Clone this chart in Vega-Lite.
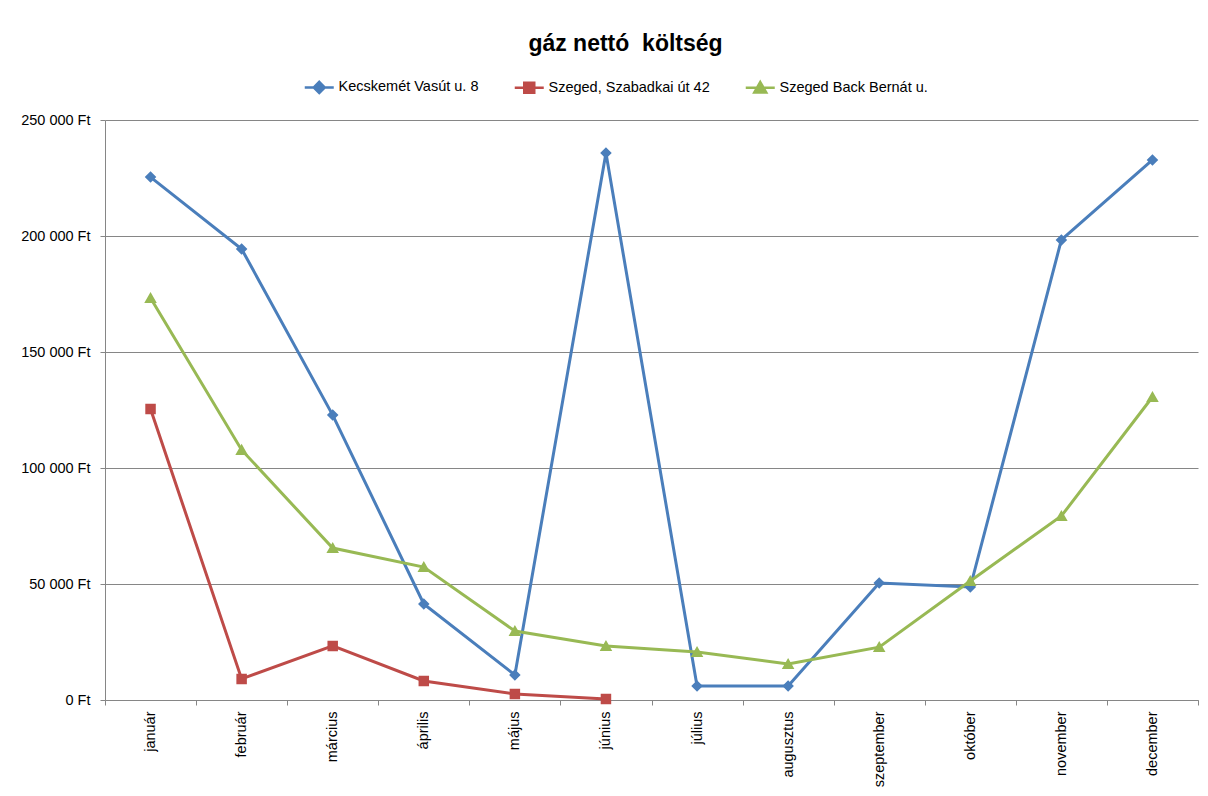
{
  "$schema": "https://vega.github.io/schema/vega-lite/v6.json",
  "width": 1093,
  "height": 580,
  "autosize": {"type": "none"},
  "padding": {"left": 105, "top": 120, "right": 10, "bottom": 96},
  "background": "white",
  "title": {"text": "gáz nettó \u00a0költség", "fontSize": 23, "font": "Liberation Sans", "fontWeight": "bold", "color": "#000000", "anchor": "middle", "dx": -26, "offset": 24},
  "config": {"view": {"stroke": null}, "font": "Liberation Sans"},
  "data": {"values": [
    {"month": "január", "series": "Kecskemét Vasút u. 8", "value": 225400},
    {"month": "február", "series": "Kecskemét Vasút u. 8", "value": 194400},
    {"month": "március", "series": "Kecskemét Vasút u. 8", "value": 122800},
    {"month": "április", "series": "Kecskemét Vasút u. 8", "value": 41400},
    {"month": "május", "series": "Kecskemét Vasút u. 8", "value": 10800},
    {"month": "június", "series": "Kecskemét Vasút u. 8", "value": 235800},
    {"month": "július", "series": "Kecskemét Vasút u. 8", "value": 6000},
    {"month": "augusztus", "series": "Kecskemét Vasút u. 8", "value": 6000},
    {"month": "szeptember", "series": "Kecskemét Vasút u. 8", "value": 50400},
    {"month": "október", "series": "Kecskemét Vasút u. 8", "value": 48700},
    {"month": "november", "series": "Kecskemét Vasút u. 8", "value": 198300},
    {"month": "december", "series": "Kecskemét Vasút u. 8", "value": 232800},
    {"month": "január", "series": "Szeged, Szabadkai út 42", "value": 125400},
    {"month": "február", "series": "Szeged, Szabadkai út 42", "value": 9100},
    {"month": "március", "series": "Szeged, Szabadkai út 42", "value": 23300},
    {"month": "április", "series": "Szeged, Szabadkai út 42", "value": 8200},
    {"month": "május", "series": "Szeged, Szabadkai út 42", "value": 2600},
    {"month": "június", "series": "Szeged, Szabadkai út 42", "value": 400},
    {"month": "január", "series": "Szeged Back Bernát u.", "value": 173300},
    {"month": "február", "series": "Szeged Back Bernát u.", "value": 107800},
    {"month": "március", "series": "Szeged Back Bernát u.", "value": 65500},
    {"month": "április", "series": "Szeged Back Bernát u.", "value": 57300},
    {"month": "május", "series": "Szeged Back Bernát u.", "value": 29700},
    {"month": "június", "series": "Szeged Back Bernát u.", "value": 23300},
    {"month": "július", "series": "Szeged Back Bernát u.", "value": 20700},
    {"month": "augusztus", "series": "Szeged Back Bernát u.", "value": 15500},
    {"month": "szeptember", "series": "Szeged Back Bernát u.", "value": 22800},
    {"month": "október", "series": "Szeged Back Bernát u.", "value": 51300},
    {"month": "november", "series": "Szeged Back Bernát u.", "value": 79300},
    {"month": "december", "series": "Szeged Back Bernát u.", "value": 130600}
  ]},
  "encoding": {
    "x": {
      "field": "month", "type": "ordinal",
      "sort": ["január", "február", "március", "április", "május", "június", "július", "augusztus", "szeptember", "október", "november", "december"],
      "scale": {"type": "band", "paddingInner": 0, "paddingOuter": 0},
      "bandPosition": 0.5,
      "axis": {"title": null, "labelAngle": -90, "labelFontSize": 14.5, "labelColor": "#000000", "labelPadding": 6, "tickBand": "extent", "tickSize": 5, "tickColor": "#868686", "domainColor": "#868686", "grid": false}
    },
    "y": {
      "field": "value", "type": "quantitative",
      "scale": {"domain": [0, 250000], "nice": false},
      "axis": {"title": null, "values": [0, 50000, 100000, 150000, 200000, 250000], "labelExpr": "replace(format(datum.value, ','), ',', ' ') + ' Ft'", "labelFontSize": 14.5, "labelColor": "#000000", "labelPadding": 10, "tickSize": 5, "tickColor": "#868686", "domainColor": "#868686", "gridColor": "#868686", "gridWidth": 1, "gridOpacity": 1}
    },
    "color": {
      "field": "series", "type": "nominal",
      "sort": ["Kecskemét Vasút u. 8", "Szeged, Szabadkai út 42", "Szeged Back Bernát u."],
      "scale": {"domain": ["Kecskemét Vasút u. 8", "Szeged, Szabadkai út 42", "Szeged Back Bernát u."], "range": ["#4A7EBB", "#BE4B48", "#98B954"]},
      "legend": {
        "title": null, "orient": "none", "direction": "horizontal", "legendX": 207, "legendY": -40,
        "labelFontSize": 14.5, "labelColor": "#000000", "labelLimit": 400, "labelOffset": 12, "columnPadding": 30, "symbolSize": 100, "symbolStrokeWidth": 2.5,
        "encode": {"symbols": {"update": {
          "fill": {"signal": "scale('color', datum.value)"},
          "stroke": {"signal": "scale('color', datum.value)"},
          "strokeWidth": {"value": 2.5},
          "opacity": {"value": 1}
        }}}
      }
    }
  },
  "layer": [
    {"mark": {"type": "line", "strokeWidth": 3}},
    {"mark": {"type": "point", "filled": true, "opacity": 1, "strokeWidth": 0},
     "encoding": {
       "shape": {"field": "series", "type": "nominal", "scale": {"domain": ["Kecskemét Vasút u. 8", "Szeged, Szabadkai út 42", "Szeged Back Bernát u."], "range": ["M-2.9,0H2.9M0,-1.1L1.1,0L0,1.1L-1.1,0Z", "M-2.9,0H2.9M-1,-1H1V1H-1Z", "M-2.9,0H2.9M0,-1.15L1.2,0.95L-1.2,0.95Z"]}, "legend": null},
       "size": {"value": 110}
     }}
  ]
}
